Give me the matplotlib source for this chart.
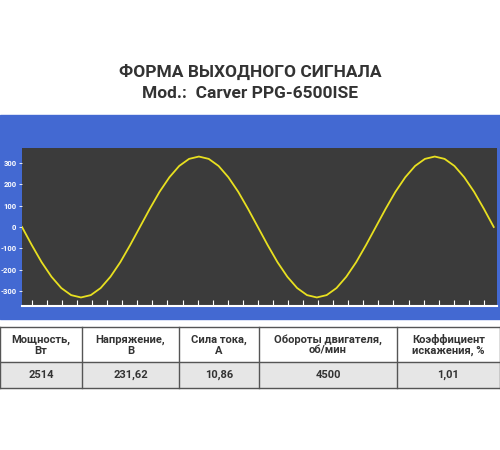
import matplotlib
matplotlib.use("Agg")
import matplotlib.pyplot as plt
from matplotlib.patches import Rectangle

plt.rcParams['font.family'] = ['Roboto', 'DejaVu Sans']

# waveform samples (every 15 degrees)
phase_deg = list(range(0, 721, 15))
voltage = [0, -85, -165, -233, -286, -319, -330, -319, -286, -233, -165, -85,
           0, 85, 165, 233, 286, 319, 330, 319, 286, 233, 165, 85,
           0, -85, -165, -233, -286, -319, -330, -319, -286, -233, -165, -85,
           0, 85, 165, 233, 286, 319, 330, 319, 286, 233, 165, 85, 0]
y_ticks = [300, 200, 100, 0, -100, -200, -300]

headers = ["Мощность,\nВт", "Напряжение,\nВ", "Сила тока,\nА", "Обороты двигателя,\nоб/мин", "Коэффициент\nискажения, %"]
values = ["2514", "231,62", "10,86", "4500", "1,01"]
col_edges = [0, 82, 179, 259, 397, 500]

W, H = 500, 450
fig = plt.figure(figsize=(5, 4.5), dpi=100)
fig.patch.set_facecolor('white')

# background layer in pixel coords
bg = fig.add_axes([0, 0, 1, 1])
bg.set_xlim(0, W); bg.set_ylim(H, 0); bg.axis('off')
bg.add_patch(Rectangle((0, 115), 500, 204, color='#4369d2', zorder=0))
bg.text(250, 72, "ФОРМА ВЫХОДНОГО СИГНАЛА", ha='center', va='center', fontsize=12.5,
        fontweight='bold', color='#333333')
bg.text(250, 93, "Mod.:  Carver PPG-6500ISE", ha='center', va='center', fontsize=12.5,
        fontweight='bold', color='#333333')

# table
bg.add_patch(Rectangle((0, 362), 500, 26, color='#e6e6e6', zorder=1))
lc = '#555555'
for yy in (327, 362, 388):
    bg.plot([0, 500], [yy, yy], color=lc, lw=1, zorder=2)
for xx in col_edges:
    bg.plot([xx, xx], [327, 388], color=lc, lw=1, zorder=2)
for i in range(5):
    cx = (col_edges[i] + col_edges[i + 1]) / 2
    bg.text(cx, 345, headers[i], ha='center', va='center', fontsize=8, fontweight='bold',
            color='#333333', linespacing=1.1)
    bg.text(cx, 375, values[i], ha='center', va='center', fontsize=8, fontweight='bold',
            color='#333333')

# oscillogram
ax = fig.add_axes([22 / W, 1 - 306 / H, 475 / W, 158 / H])
ax.set_facecolor('#3b3b3b')
ax.plot(phase_deg, voltage, color='#e8e020', lw=1.3)
ax.set_xlim(0, 725)
ax.set_ylim(-370, 370)
ax.set_yticks(y_ticks)
ax.set_yticklabels([str(v) for v in y_ticks], color='white', fontsize=5.5, fontweight='bold')
ax.set_xticks(range(15, 725, 23))
ax.set_xticklabels([])
ax.tick_params(axis='x', direction='in', colors='white', length=4, width=0.8)
ax.tick_params(axis='y', colors='white', length=2, width=0.6, pad=2)
for s in ('top', 'right', 'left'):
    ax.spines[s].set_visible(False)
ax.spines['bottom'].set_color('white')
ax.spines['bottom'].set_linewidth(1.5)

fig.savefig('out.png', dpi=100)
